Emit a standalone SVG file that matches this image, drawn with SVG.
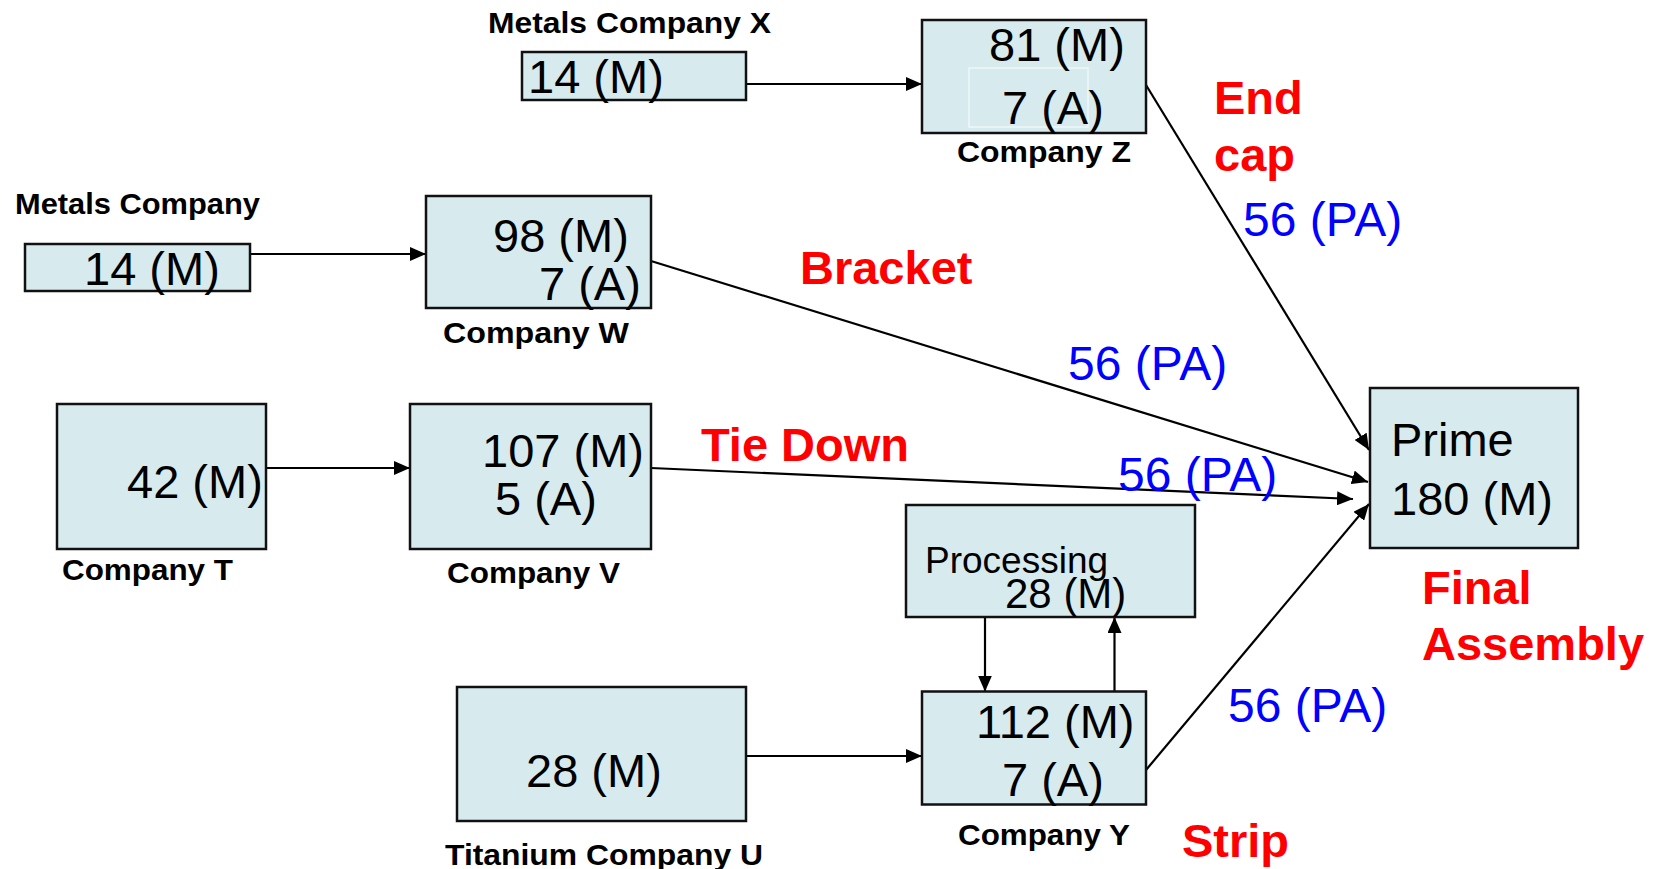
<svg xmlns="http://www.w3.org/2000/svg" width="1661" height="869" viewBox="0 0 1661 869">
<style>
.box{fill:#D7EBEE;stroke:#111;stroke-width:2.5}
.num{font-family:"Liberation Sans",Arial,sans-serif;font-size:47px;fill:#000}
.lbl{font-family:"Liberation Sans",Arial,sans-serif;font-size:30px;font-weight:bold;fill:#000}
.red{font-family:"Liberation Sans",Arial,sans-serif;font-size:47px;font-weight:bold;fill:#FF0000}
.blue{font-family:"Liberation Sans",Arial,sans-serif;font-size:48px;fill:#0000FF}
.con{stroke:#000;stroke-width:2.2;fill:none;marker-end:url(#ah)}
</style>
<defs>
<marker id="ah" markerUnits="userSpaceOnUse" markerWidth="16" markerHeight="14" refX="16" refY="7" orient="auto">
<path d="M0,0 L16,7 L0,14 z" fill="#000"/>
</marker>
</defs>
<rect width="1661" height="869" fill="#fff"/>
<g id="connectors">
<line class="con" x1="746" y1="84" x2="922" y2="84"/>
<line class="con" x1="250" y1="254" x2="426" y2="254"/>
<line class="con" x1="266" y1="468" x2="410" y2="468"/>
<line class="con" x1="746" y1="756" x2="922" y2="756"/>
<line class="con" x1="1146" y1="85" x2="1369" y2="450"/>
<line class="con" x1="651" y1="261" x2="1368" y2="482"/>
<line class="con" x1="651" y1="468" x2="1353" y2="499"/>
<line class="con" x1="1146" y1="770" x2="1369" y2="504"/>
<line class="con" x1="985" y1="617" x2="985" y2="691.5"/>
<line class="con" x1="1114.5" y1="691.5" x2="1114.5" y2="617"/>
</g>
<g id="metals-x">
<text class="lbl" x="488" y="33" textLength="283" lengthAdjust="spacingAndGlyphs">Metals Company X</text>
<rect class="box" x="522" y="52" width="224" height="48"/>
<text class="num" x="528" y="93">14 (M)</text>
</g>
<g id="metals">
<text class="lbl" x="15" y="214" textLength="245" lengthAdjust="spacingAndGlyphs">Metals Company</text>
<rect class="box" x="25" y="244" width="225" height="47"/>
<text class="num" x="84" y="285">14 (M)</text>
</g>
<g id="company-z">
<rect class="box" x="922" y="20" width="224" height="113"/>
<rect x="969" y="68" width="119" height="59" fill="none" stroke="#EEF7F9" stroke-width="1.5"/>
<text class="num" x="989" y="61">81 (M)</text>
<text class="num" x="1002" y="124">7 (A)</text>
<text class="lbl" x="957" y="162" textLength="174" lengthAdjust="spacingAndGlyphs">Company Z</text>
</g>
<g id="company-w">
<rect class="box" x="426" y="196" width="225" height="112"/>
<text class="num" x="493" y="252">98 (M)</text>
<text class="num" x="539" y="300">7 (A)</text>
<text class="lbl" x="443" y="343" textLength="186" lengthAdjust="spacingAndGlyphs">Company W</text>
</g>
<g id="company-t">
<rect class="box" x="57" y="404" width="209" height="145"/>
<text class="num" x="127" y="498">42 (M)</text>
<text class="lbl" x="62" y="580" textLength="171" lengthAdjust="spacingAndGlyphs">Company T</text>
</g>
<g id="company-v">
<rect class="box" x="410" y="404" width="241" height="145"/>
<text class="num" x="482" y="466.5">107 (M)</text>
<text class="num" x="495" y="515">5 (A)</text>
<text class="lbl" x="447" y="583" textLength="173" lengthAdjust="spacingAndGlyphs">Company V</text>
</g>
<g id="titanium-u">
<rect class="box" x="457" y="687" width="289" height="134"/>
<text class="num" x="526" y="787">28 (M)</text>
<text class="lbl" x="445" y="865" textLength="318" lengthAdjust="spacingAndGlyphs">Titanium Company U</text>
</g>
<g id="processing">
<rect class="box" x="906" y="505" width="289" height="112"/>
<text class="num" x="925" y="573" style="font-size:37px">Processing</text>
<text class="num" x="1005" y="608" style="font-size:42px">28 (M)</text>
</g>
<g id="company-y">
<rect class="box" x="922" y="691.5" width="224" height="113"/>
<text class="num" x="976" y="738">112 (M)</text>
<text class="num" x="1002" y="795.5">7 (A)</text>
<text class="lbl" x="958" y="845" textLength="172" lengthAdjust="spacingAndGlyphs">Company Y</text>
</g>
<g id="prime">
<rect class="box" x="1370" y="388" width="208" height="160"/>
<text class="num" x="1391" y="456">Prime</text>
<text class="num" x="1391" y="515">180 (M)</text>
<text class="red" x="1422" y="604">Final</text>
<text class="red" x="1422" y="660">Assembly</text>
</g>
<g id="labels">
<text class="red" x="1214" y="114">End</text>
<text class="red" x="1214" y="171">cap</text>
<text class="blue" x="1243" y="236">56 (PA)</text>
<text class="red" x="800" y="284">Bracket</text>
<text class="blue" x="1068" y="380">56 (PA)</text>
<text class="red" x="701" y="461">Tie Down</text>
<text class="blue" x="1118" y="491">56 (PA)</text>
<text class="blue" x="1228" y="722">56 (PA)</text>
<text class="red" x="1182" y="857">Strip</text>
</g>
</svg>
